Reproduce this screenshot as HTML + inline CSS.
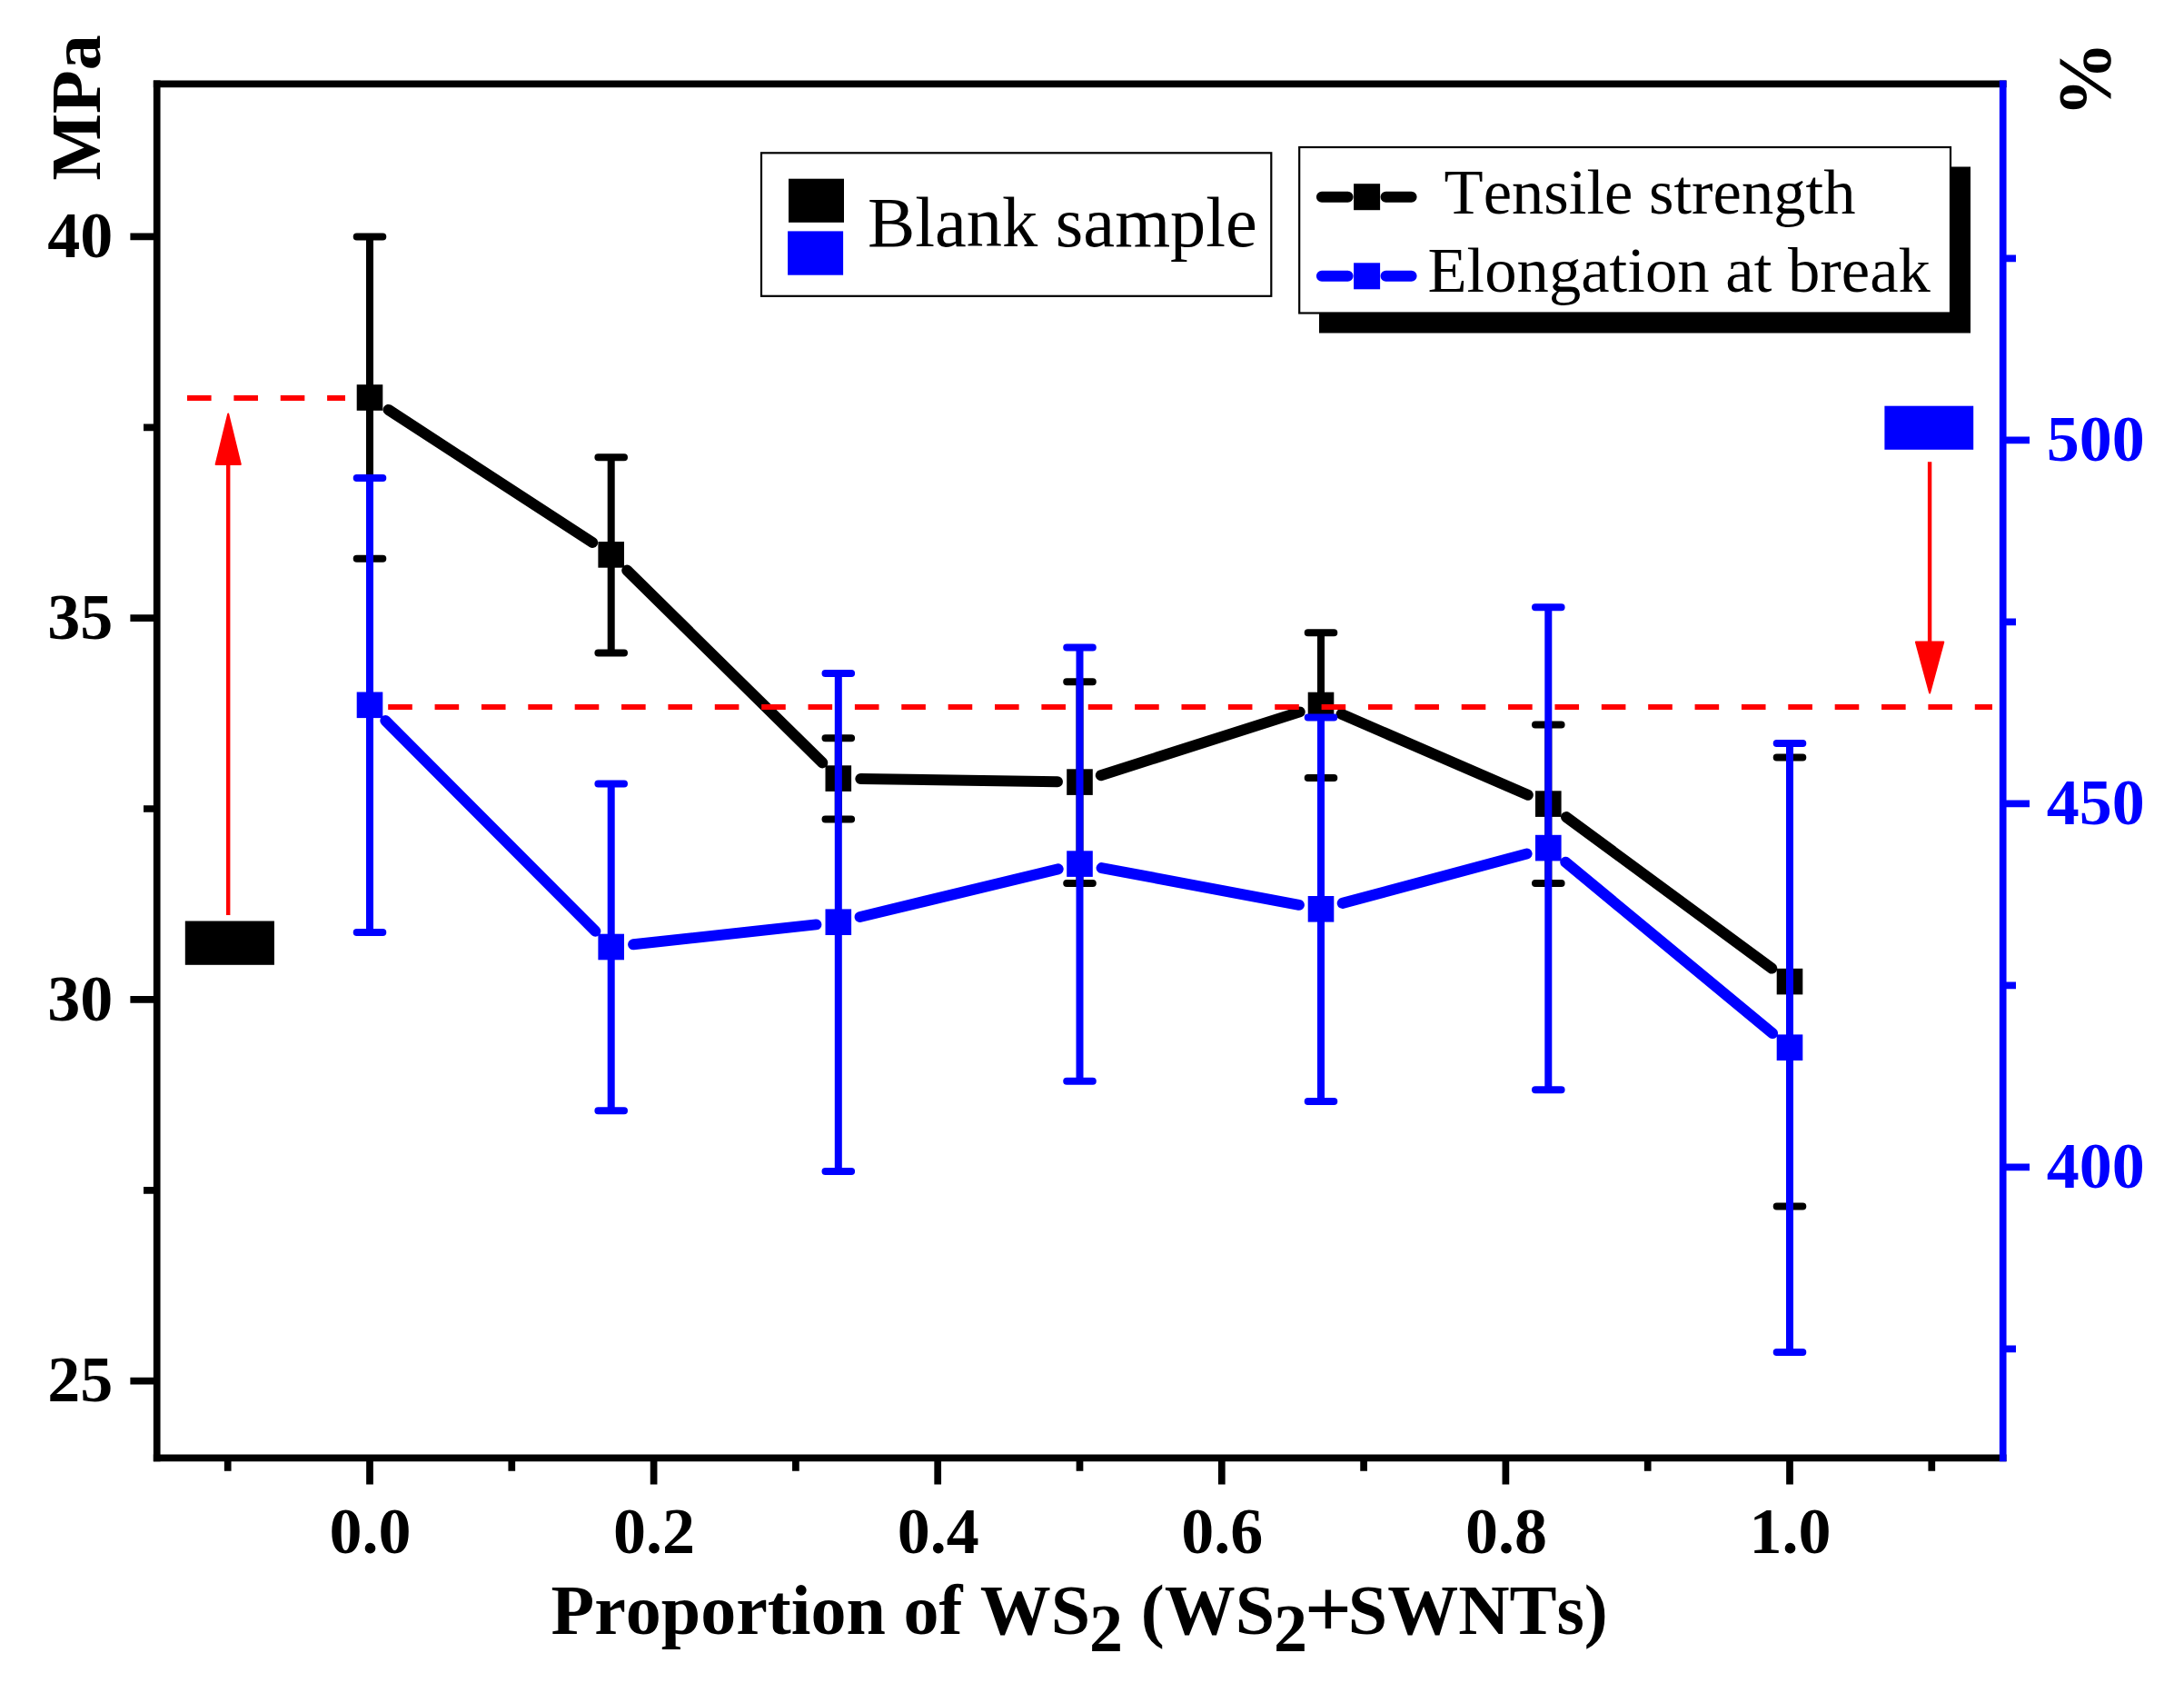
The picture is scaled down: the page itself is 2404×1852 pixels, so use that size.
<!DOCTYPE html>
<html><head><meta charset="utf-8"><title>Tensile strength and elongation at break</title>
<style>html,body{margin:0;padding:0;background:#fff}svg{display:block}text{font-family:"Liberation Serif",serif;font-kerning:none;font-variant-ligatures:none}</style></head><body>
<svg width="2404" height="1852" viewBox="0 0 2404 1852">
<rect x="0" y="0" width="2404" height="1852" fill="#fff"/>
<g id="black-series"><path d="M407.0 260.4V614.7M392.7 260.4H421.3M392.7 614.7H421.3" stroke="#000" stroke-width="8" stroke-linecap="round" fill="none"/>
<path d="M672.7 503.2V718.4M658.4 503.2H687.0M658.4 718.4H687.0" stroke="#000" stroke-width="8" stroke-linecap="round" fill="none"/>
<path d="M922.8 812.2V901.4M908.5 812.2H937.1M908.5 901.4H937.1" stroke="#000" stroke-width="8" stroke-linecap="round" fill="none"/>
<path d="M1188.5 750.3V972.0M1174.2 750.3H1202.8M1174.2 972.0H1202.8" stroke="#000" stroke-width="8" stroke-linecap="round" fill="none"/>
<path d="M1454.0 696.3V856.1M1439.7 696.3H1468.3M1439.7 856.1H1468.3" stroke="#000" stroke-width="8" stroke-linecap="round" fill="none"/>
<path d="M1704.3 797.4V971.9M1690.0 797.4H1718.6M1690.0 971.9H1718.6" stroke="#000" stroke-width="8" stroke-linecap="round" fill="none"/>
<path d="M1970.0 833.6V1327.5M1955.7 833.6H1984.3M1955.7 1327.5H1984.3" stroke="#000" stroke-width="8" stroke-linecap="round" fill="none"/>
<path d="M427.5 450.9L652.2 597.0M690.2 627.6L905.3 839.4M947.3 857.0L1164.0 860.2M1211.8 853.2L1430.7 783.4M1476.5 785.8L1681.8 874.8M1724.0 899.1L1950.3 1065.6" stroke="#000" stroke-width="12" stroke-linecap="round" fill="none"/>
<rect x="392.7" y="423.2" width="28.6" height="28.6" fill="#000"/>
<rect x="658.4" y="596.1" width="28.6" height="28.6" fill="#000"/>
<rect x="908.5" y="842.3" width="28.6" height="28.6" fill="#000"/>
<rect x="1174.2" y="846.3" width="28.6" height="28.6" fill="#000"/>
<rect x="1439.7" y="761.7" width="28.6" height="28.6" fill="#000"/>
<rect x="1690.0" y="870.3" width="28.6" height="28.6" fill="#000"/>
<rect x="1955.7" y="1065.8" width="28.6" height="28.6" fill="#000"/></g>
<g id="blue-series"><path d="M407.0 526.1V1026.0M392.7 526.1H421.3M392.7 1026.0H421.3" stroke="#0000ff" stroke-width="8" stroke-linecap="round" fill="none"/>
<path d="M672.7 862.6V1222.2M658.4 862.6H687.0M658.4 1222.2H687.0" stroke="#0000ff" stroke-width="8" stroke-linecap="round" fill="none"/>
<path d="M922.8 741.1V1288.9M908.5 741.1H937.1M908.5 1288.9H937.1" stroke="#0000ff" stroke-width="8" stroke-linecap="round" fill="none"/>
<path d="M1188.5 712.4V1189.8M1174.2 712.4H1202.8M1174.2 1189.8H1202.8" stroke="#0000ff" stroke-width="8" stroke-linecap="round" fill="none"/>
<path d="M1454.0 789.4V1212.0M1439.7 789.4H1468.3M1439.7 1212.0H1468.3" stroke="#0000ff" stroke-width="8" stroke-linecap="round" fill="none"/>
<path d="M1704.3 668.3V1199.2M1690.0 668.3H1718.6M1690.0 1199.2H1718.6" stroke="#0000ff" stroke-width="8" stroke-linecap="round" fill="none"/>
<path d="M1970.0 817.9V1488.0M1955.7 817.9H1984.3M1955.7 1488.0H1984.3" stroke="#0000ff" stroke-width="8" stroke-linecap="round" fill="none"/>
<path d="M424.3 793.1L655.4 1024.7M697.1 1039.3L898.4 1017.4M946.6 1009.0L1164.7 956.3M1212.6 955.1L1429.9 995.8M1477.7 993.9L1680.6 939.5M1723.2 948.7L1951.1 1137.1" stroke="#0000ff" stroke-width="12" stroke-linecap="round" fill="none"/>
<rect x="392.7" y="761.5" width="28.6" height="28.6" fill="#0000ff"/>
<rect x="658.4" y="1027.7" width="28.6" height="28.6" fill="#0000ff"/>
<rect x="908.5" y="1000.4" width="28.6" height="28.6" fill="#0000ff"/>
<rect x="1174.2" y="936.3" width="28.6" height="28.6" fill="#0000ff"/>
<rect x="1439.7" y="986.0" width="28.6" height="28.6" fill="#0000ff"/>
<rect x="1690.0" y="918.8" width="28.6" height="28.6" fill="#0000ff"/>
<rect x="1955.7" y="1138.4" width="28.6" height="28.6" fill="#0000ff"/></g>
<path d="M206 438H380" stroke="#ff0000" stroke-width="6" stroke-dasharray="26.6 24.77" fill="none"/>
<path d="M427.2 777.9H2193" stroke="#ff0000" stroke-width="6" stroke-dasharray="26.6 24.77" fill="none"/>
<path d="M251.2 1007V505" stroke="#ff0000" stroke-width="4.4" fill="none"/>
<path d="M251.2 455.5L264.8 511H237.6Z" fill="#ff0000" stroke="#ff0000" stroke-width="2" stroke-linejoin="round"/>
<path d="M2124.1 508.2V712" stroke="#ff0000" stroke-width="4.4" fill="none"/>
<path d="M2124.1 762.5L2139.3 706.5H2108.9Z" fill="#ff0000" stroke="#ff0000" stroke-width="2" stroke-linejoin="round"/>
<rect x="203.8" y="1013.5" width="98.1" height="48.3" fill="#000"/>
<rect x="2074.4" y="446.7" width="97.8" height="48.1" fill="#0000ff"/>
<g id="axes" stroke="#000" stroke-width="7.7" fill="none">
<path d="M168.85 92.3H2208.55"/>
<path d="M172.7 88.45V1608.15"/>
<path d="M168.85 1604.3H2208.55"/>
<path d="M143.4 260.4H172.7M143.4 680.1H172.7M143.4 1099.9H172.7M143.4 1519.7H172.7M158 470.3H172.7M158 890.0H172.7M158 1309.8H172.7M407.0 1604.3V1633.6M719.6 1604.3V1633.6M1032.2 1604.3V1633.6M1344.8 1604.3V1633.6M1657.4 1604.3V1633.6M1970.0 1604.3V1633.6M250.7 1604.3V1618.7M563.3 1604.3V1618.7M875.9 1604.3V1618.7M1188.5 1604.3V1618.7M1501.1 1604.3V1618.7M1813.7 1604.3V1618.7M2126.3 1604.3V1618.7"/>
</g>
<g id="raxis" stroke="#0000ff" stroke-width="7.7" fill="none">
<path d="M2204.7 88.45V1608.15M2204.7 484.3H2234M2204.7 884.3H2234M2204.7 1284.3H2234M2204.7 284.3H2219M2204.7 684.3H2219M2204.7 1084.3H2219M2204.7 1484.3H2219"/>
</g>
<g font-size="72" font-weight="bold" fill="#000">
<text x="124.2" y="283.0" text-anchor="end">40</text>
<text x="124.2" y="702.8" text-anchor="end">35</text>
<text x="124.2" y="1122.5" text-anchor="end">30</text>
<text x="124.2" y="1542.2" text-anchor="end">25</text>
<text x="407.5" y="1709" text-anchor="middle">0.0</text>
<text x="720.1" y="1709" text-anchor="middle">0.2</text>
<text x="1032.7" y="1709" text-anchor="middle">0.4</text>
<text x="1345.3" y="1709" text-anchor="middle">0.6</text>
<text x="1657.9" y="1709" text-anchor="middle">0.8</text>
<text x="1970.5" y="1709" text-anchor="middle">1.0</text>
</g>
<g font-size="72" font-weight="bold" fill="#0000ff">
<text x="2252.8" y="506.6">500</text>
<text x="2252.8" y="906.6">450</text>
<text x="2252.8" y="1306.6">400</text>
</g>
<g font-size="78" font-weight="bold" fill="#000">
<text transform="translate(110 198.5) rotate(-90)">MPa</text>
<text transform="translate(2321.5 128.8) rotate(-90)" font-size="83">%</text>
<text x="606.6" y="1797.8">Proportion of WS<tspan font-size="74" dx="-1.3" dy="19.5">2</tspan><tspan dx="0.3" dy="-19.5"> (WS</tspan><tspan font-size="74" dx="-1.1" dy="19.5">2</tspan><tspan font-size="91" dx="-2.9" dy="-16.2">+</tspan><tspan dx="-4.2" dy="-3.3">SWNTs)</tspan></text>
</g>
<g id="legend1">
<rect x="838" y="168.3" width="561.3" height="157.5" fill="#fff" stroke="#000" stroke-width="2.2"/>
<rect x="868" y="196.7" width="61" height="48.1" fill="#000"/>
<rect x="867.1" y="254.4" width="61" height="48.3" fill="#0000ff"/>
<text x="955" y="271.4" font-size="78.4">Blank sample</text>
</g>
<g id="legend2">
<rect x="1452" y="183.5" width="717" height="183" fill="#000"/>
<rect x="1430.2" y="162" width="716.8" height="182.5" fill="#fff" stroke="#000" stroke-width="2.2"/>
<path d="M1454.9 216.7H1483.6M1525.5 216.7H1553.6" stroke="#000" stroke-width="12" stroke-linecap="round"/>
<rect x="1490.1" y="202.2" width="29" height="29" fill="#000"/>
<path d="M1454.9 303.8H1483.6M1525.5 303.8H1553.6" stroke="#0000ff" stroke-width="12" stroke-linecap="round"/>
<rect x="1490.1" y="289.3" width="29" height="29" fill="#0000ff"/>
<text x="1589.6" y="234.6" font-size="70.6">Tensile strength</text>
<text x="1571.4" y="321.2" font-size="70.7">Elongation at break</text>
</g>
</svg></body></html>
